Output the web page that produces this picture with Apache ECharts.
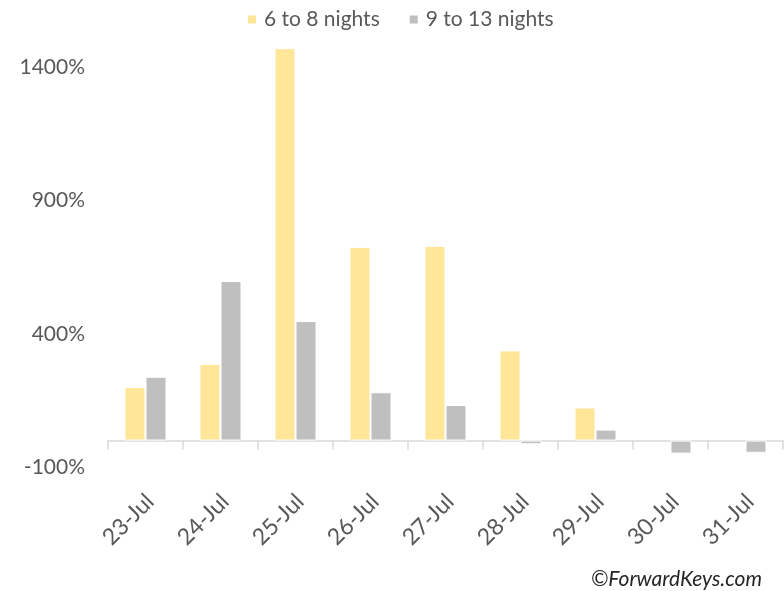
<!DOCTYPE html>
<html>
<head>
<meta charset="utf-8">
<script src="https://cdn.jsdelivr.net/npm/echarts@6/dist/echarts.min.js"></script>
<style>
html,body{margin:0;padding:0;background:#fff;}
#chart{width:784px;height:591px;}
</style>
</head>
<body>
<div id="chart"></div>
<script>
const categories = ['23-Jul','24-Jul','25-Jul','26-Jul','27-Jul','28-Jul','29-Jul','30-Jul','31-Jul'];
const nights6to8 = [201, 287, 1471, 726, 730, 338, 124, null, null];
const nights9to13 = [239, 598, 448, 181, 133, -14, 41, -49, -46];
const yTicks = [-100, 400, 900, 1400];
const seriesNames = ['6 to 8 nights', '9 to 13 nights'];

const FONT = 'Lato';
const TEXT = '#595959';
const chart = echarts.init(document.getElementById('chart'));
chart.setOption({
  animation: false,
  grid: { left: 108, right: 1, top: 40.5, bottom: 123.8, containLabel: false },
  legend: {
    data: seriesNames,
    left: 241, top: 4,
    icon: 'rect', itemWidth: 10, itemHeight: 10, itemGap: 28,
    textStyle: { fontFamily: FONT, fontSize: 21, color: TEXT, padding: [0,0,0,2] }
  },
  xAxis: {
    type: 'category',
    data: categories,
    axisLine: { onZero: true, lineStyle: { color: '#D9D9D9', width: 1.5 } },
    axisTick: { show: true, length: 9, lineStyle: { color: '#D9D9D9', width: 1.5 } },
    axisLabel: { rotate: 45, margin: 26, verticalAlign: 'top', lineHeight: 13,
      fontFamily: FONT, fontSize: 23, color: TEXT }
  },
  yAxis: {
    type: 'value',
    min: -100, max: 1500, interval: 500,
    splitLine: { show: false },
    axisLine: { show: false },
    axisTick: { show: false },
    axisLabel: {
      margin: 23, fontFamily: FONT, fontSize: 21, color: TEXT,
      formatter: v => yTicks.includes(v) ? v + '%' : ''
    }
  },
  series: [
    { name: seriesNames[0], type: 'bar', data: nights6to8, barWidth: '28%', barGap: '0%',
      itemStyle: { color: '#FFE699', borderColor: '#fff', borderWidth: 1 } },
    { name: seriesNames[1], type: 'bar', data: nights9to13, barWidth: '28%', barGap: '0%',
      itemStyle: { color: '#BFBFBF', borderColor: '#fff', borderWidth: 1 } }
  ],
  graphic: [{
    type: 'text', right: 22, top: 569,
    style: { text: '©ForwardKeys.com', fontFamily: FONT, fontStyle: 'italic', fontSize: 21, fill: '#262626' }
  }]
});
</script>
</body>
</html>
